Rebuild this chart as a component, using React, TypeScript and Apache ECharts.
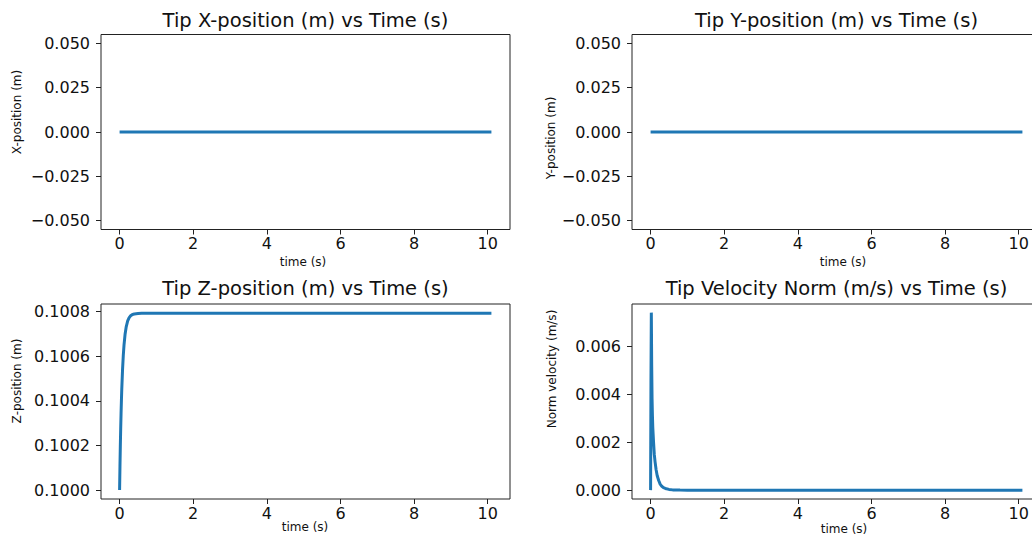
import React, { useEffect, useRef } from "react";
import * as echarts from "echarts";

// ---- data ----
const timeS = [0, 0.01, 0.02, 0.03, 0.04, 0.05, 0.06, 0.08, 0.1, 0.12, 0.15, 0.18, 0.22, 0.26, 0.3, 0.35, 0.4, 0.5, 0.6, 0.8, 1.0, 1.5, 2, 3, 4, 5, 6, 7, 8, 9, 10, 10.1];
const xPosM = [0, 0, 0, 0, 0, 0, 0, 0, 0, 0, 0, 0, 0, 0, 0, 0, 0, 0, 0, 0, 0, 0, 0, 0, 0, 0, 0, 0, 0, 0, 0, 0];
const yPosM = [0, 0, 0, 0, 0, 0, 0, 0, 0, 0, 0, 0, 0, 0, 0, 0, 0, 0, 0, 0, 0, 0, 0, 0, 0, 0, 0, 0, 0, 0, 0, 0];
const zPosM = [0.1, 0.100105, 0.100197, 0.100276, 0.100345, 0.100404, 0.100456, 0.100539, 0.100602, 0.10065, 0.1007, 0.100732, 0.100758, 0.100773, 0.100781, 0.100787, 0.100789, 0.100791, 0.100792, 0.100792, 0.100792, 0.100792, 0.100792, 0.100792, 0.100792, 0.100792, 0.100792, 0.100792, 0.100792, 0.100792, 0.100792, 0.100792];
const velNorm = [0, 0.0045, 0.0074, 0.0052, 0.0038, 0.0031, 0.0026, 0.002, 0.0015, 0.0012, 0.00085, 0.0006, 0.0004, 0.00025, 0.00017, 0.0001, 0.00007, 0.00003, 0.00001, 0.000003, 0, 0, 0, 0, 0, 0, 0, 0, 0, 0, 0, 0];

const timeTicks = [0, 2, 4, 6, 8, 10];
const posTicks = [-0.05, -0.025, 0, 0.025, 0.05];
const zTicks = [0.1, 0.1002, 0.1004, 0.1006, 0.1008];
const velTicks = [0, 0.002, 0.004, 0.006];

const titles = [
  "Tip X-position (m) vs Time (s)",
  "Tip Y-position (m) vs Time (s)",
  "Tip Z-position (m) vs Time (s)",
  "Tip Velocity Norm (m/s) vs Time (s)",
];
const yNames = ["X-position (m)", "Y-position (m)", "Z-position (m)", "Norm velocity (m/s)"];
const xName = "time (s)";

const FONT = '"DejaVu Sans", sans-serif';

function fmt(v: number, d: number) {
  return v.toFixed(d).replace("-", "\u2212");
}

export default function App() {
  const ref = useRef<HTMLDivElement>(null);
  useEffect(() => {
    if (!ref.current) return;
    const chart = echarts.init(ref.current, null, { renderer: "svg" });

    const grids = [
      { left: 101, top: 34.5, width: 409, height: 195 },
      { left: 632, top: 34.5, width: 409, height: 195 },
      { left: 101, top: 304, width: 409, height: 195 },
      { left: 632, top: 304, width: 409, height: 195 },
    ].map((g) => ({
      ...g,
      show: true,
      borderColor: "#222",
      borderWidth: 1,
      backgroundColor: "#fff",
      containLabel: false,
      outerBoundsMode: "none",
    }));

    const xAxes = grids.map((_, i) => ({
      type: "value",
      gridIndex: i,
      min: -0.505,
      max: 10.605,
      splitLine: { show: false },
      axisLine: { show: false, onZero: false },
      axisTick: { show: true, inside: false, length: 5, lineStyle: { color: "#222", width: 1 }, customValues: timeTicks },
      axisLabel: { color: "#111", fontSize: 16, fontFamily: FONT, margin: 6, customValues: timeTicks, formatter: (v: number) => String(v) },
    }));

    const yDefs = [
      { min: -0.055, max: 0.055, ticks: posTicks, d: 3 },
      { min: -0.055, max: 0.055, ticks: posTicks, d: 3 },
      { min: 0.09996, max: 0.100834, ticks: zTicks, d: 4 },
      { min: -0.00037, max: 0.00776, ticks: velTicks, d: 3 },
    ];
    const yAxes = yDefs.map((y, i) => ({
      type: "value",
      gridIndex: i,
      min: y.min,
      max: y.max,
      splitLine: { show: false },
      axisLine: { show: false, onZero: false },
      axisTick: { show: true, inside: false, length: 5, lineStyle: { color: "#222", width: 1 }, customValues: y.ticks },
      axisLabel: { color: "#111", fontSize: 16, fontFamily: FONT, margin: 11, customValues: y.ticks, formatter: (v: number) => fmt(v, y.d) },
    }));

    const seriesData = [xPosM, yPosM, zPosM, velNorm];
    const series = seriesData.map((arr, i) => ({
      type: "line",
      xAxisIndex: i,
      yAxisIndex: i,
      showSymbol: false,
      symbol: "none",
      lineStyle: { color: "#1f77b4", width: 3 },
      data: timeS.map((t, k) => [t, arr[k]]),
    }));

    const titlePos = [
      [305.5, 20],
      [836.5, 20],
      [305.5, 288],
      [836.5, 288],
    ];
    const yNamePos = [
      [17, 112],
      [551, 138],
      [17, 381],
      [552, 369],
    ];
    const xNamePos = [
      [303, 262],
      [843, 262],
      [305, 527],
      [844, 529],
    ];

    const graphic: any[] = [];
    titles.forEach((t, i) => {
      graphic.push({
        type: "text",
        x: titlePos[i][0],
        y: titlePos[i][1],
        style: { text: t, fontSize: 19.5, fontFamily: FONT, fill: "#111", align: "center", verticalAlign: "middle" },
      });
    });
    yNames.forEach((t, i) => {
      graphic.push({
        type: "text",
        x: yNamePos[i][0],
        y: yNamePos[i][1],
        rotation: Math.PI / 2,
        style: { text: t, fontSize: 12, fontFamily: FONT, fill: "#111", align: "center", verticalAlign: "middle" },
      });
    });
    xNamePos.forEach((p) => {
      graphic.push({
        type: "text",
        x: p[0],
        y: p[1],
        style: { text: xName, fontSize: 12, fontFamily: FONT, fill: "#111", align: "center", verticalAlign: "middle" },
      });
    });

    chart.setOption({
      animation: false,
      backgroundColor: "#fff",
      grid: grids,
      xAxis: xAxes,
      yAxis: yAxes,
      series,
      graphic,
    } as any);

    return () => chart.dispose();
  }, []);

  return (
    <div style={{ position: "fixed", left: 0, top: 0, width: 1032, height: 535, overflow: "hidden", background: "#fff" }}>
      <div ref={ref} style={{ width: 1060, height: 535 }} />
    </div>
  );
}
